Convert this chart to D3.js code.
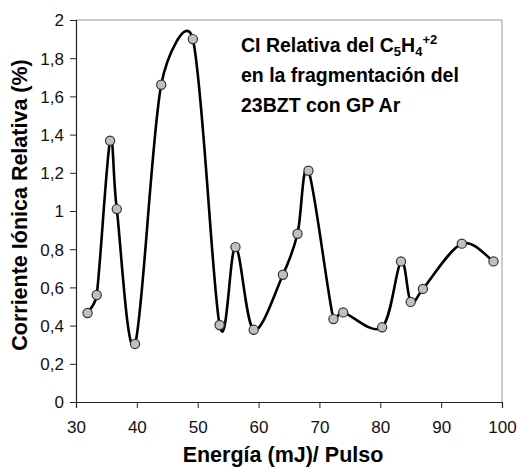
<!DOCTYPE html>
<html>
<head>
<meta charset="utf-8">
<script src="https://cdn.jsdelivr.net/npm/d3@7"></script>
<style>
  html, body { margin: 0; padding: 0; background: #fff; }
  svg { display: block; font-family: "Liberation Sans", Arial, sans-serif; }
</style>
</head>
<body>
<svg id="chart" width="517" height="468"></svg>
<script>
// Relative ion current of C5H4+2 vs. laser pulse energy
const energy = [31.9, 33.4, 35.6, 36.7, 39.7, 44.0, 49.2, 53.6, 56.2, 59.2, 64.0, 66.4, 68.2, 72.3, 73.9, 80.3, 83.4, 85.0, 87.0, 93.4, 98.6];
const current = [0.466, 0.560, 1.368, 1.010, 0.304, 1.661, 1.900, 0.403, 0.811, 0.378, 0.666, 0.881, 1.211, 0.434, 0.469, 0.391, 0.736, 0.524, 0.592, 0.829, 0.736];
const xTicks = [30, 40, 50, 60, 70, 80, 90, 100];
const yTicks = [0, 0.2, 0.4, 0.6, 0.8, 1, 1.2, 1.4, 1.6, 1.8, 2];

const svg = d3.select("#chart");
const m = { left: 76, right: 15, top: 20, bottom: 66 };
const W = 517, H = 468;

const x = d3.scaleLinear().domain([30, 100]).range([m.left, W - m.right]);
const y = d3.scaleLinear().domain([0, 2]).range([H - m.bottom, m.top]);

const fmt = d => String(d).replace(".", ",");

// plot frame (top and right edges)
svg.append("path")
  .attr("d", `M${x(30)},${y(2)}H${x(100)}V${y(0)}`)
  .attr("fill", "none").attr("stroke", "#999").attr("stroke-width", 1);

// x axis
const gx = svg.append("g").attr("transform", `translate(0,${y(0)})`)
  .call(d3.axisBottom(x).tickValues(xTicks).tickSize(6).tickPadding(13).tickFormat(fmt));
// y axis
const gy = svg.append("g").attr("transform", `translate(${x(30)},0)`)
  .call(d3.axisLeft(y).tickValues(yTicks).tickSize(6).tickPadding(6).tickFormat(fmt));

[gx, gy].forEach(g => {
  g.select(".domain").attr("stroke", "#222").attr("stroke-width", 1.2);
  g.selectAll(".tick line").attr("stroke", "#222");
  g.selectAll(".tick text").attr("fill", "#111").style("font-size", "17px")
    .style("font-family", "'Liberation Sans', Arial, sans-serif");
});
gy.selectAll(".tick text").attr("dy", "0.35em");

// Spreadsheet-style smoothed line: cubic Bezier segments whose control
// points follow the neighbour chord (1/6 of it), clamped to half the segment.
function smoothPath(p) {
  const path = d3.path();
  path.moveTo(p[0][0], p[0][1]);
  const dist = (a, b) => Math.hypot(b[0] - a[0], b[1] - a[1]);
  for (let i = 0; i < p.length - 1; i++) {
    const p0 = p[i - 1] || p[i], p1 = p[i], p2 = p[i + 1], p3 = p[i + 2] || p[i + 1];
    const lim = dist(p1, p2) / 2;
    const d02 = dist(p0, p2), d13 = dist(p1, p3);
    const s1 = d02 / 6 > lim ? lim / d02 : 1 / 6;
    const s2 = d13 / 6 > lim ? lim / d13 : 1 / 6;
    path.bezierCurveTo(
      p1[0] + (p2[0] - p0[0]) * s1, p1[1] + (p2[1] - p0[1]) * s1,
      p2[0] - (p3[0] - p1[0]) * s2, p2[1] - (p3[1] - p1[1]) * s2,
      p2[0], p2[1]);
  }
  return path.toString();
}

const pts = energy.map((e, i) => [e, current[i]]);
const px = pts.map(d => [x(d[0]), y(d[1])]);
svg.append("path")
  .attr("d", smoothPath(px))
  .attr("fill", "none").attr("stroke", "#000").attr("stroke-width", 2.6)
  .attr("stroke-linejoin", "round");

// markers
svg.selectAll("circle.pt").data(pts).join("circle")
  .attr("class", "pt")
  .attr("cx", d => x(d[0])).attr("cy", d => y(d[1]))
  .attr("r", 4.6)
  .attr("fill", "#c0c0c0").attr("stroke", "#333").attr("stroke-width", 1.2);

// axis titles
svg.append("text")
  .attr("x", 283).attr("y", 462)
  .attr("text-anchor", "middle")
  .style("font-size", "21.5px").style("font-weight", "bold")
  .text("Energía (mJ)/ Pulso");

svg.append("text")
  .attr("transform", `translate(27,205) rotate(-90)`)
  .attr("text-anchor", "middle")
  .style("font-size", "21.5px").style("font-weight", "bold")
  .text("Corriente Iónica Relativa (%)");

// chart title (in-plot annotation)
const title = svg.append("text")
  .attr("x", 241).attr("y", 52)
  .style("font-size", "19.5px").style("font-weight", "bold");
title.append("tspan").text("CI Relativa del C");
title.append("tspan").text("5").attr("dy", 4).style("font-size", "13px");
title.append("tspan").text("H").attr("dy", -4);
title.append("tspan").text("4").attr("dy", 4).style("font-size", "13px");
title.append("tspan").text("+2").attr("dy", -12).style("font-size", "13px");
svg.append("text")
  .attr("x", 241).attr("y", 82)
  .style("font-size", "19.5px").style("font-weight", "bold")
  .text("en la fragmentación del");
svg.append("text")
  .attr("x", 241).attr("y", 112)
  .style("font-size", "19.5px").style("font-weight", "bold")
  .text("23BZT con GP Ar");
</script>
</body>
</html>
